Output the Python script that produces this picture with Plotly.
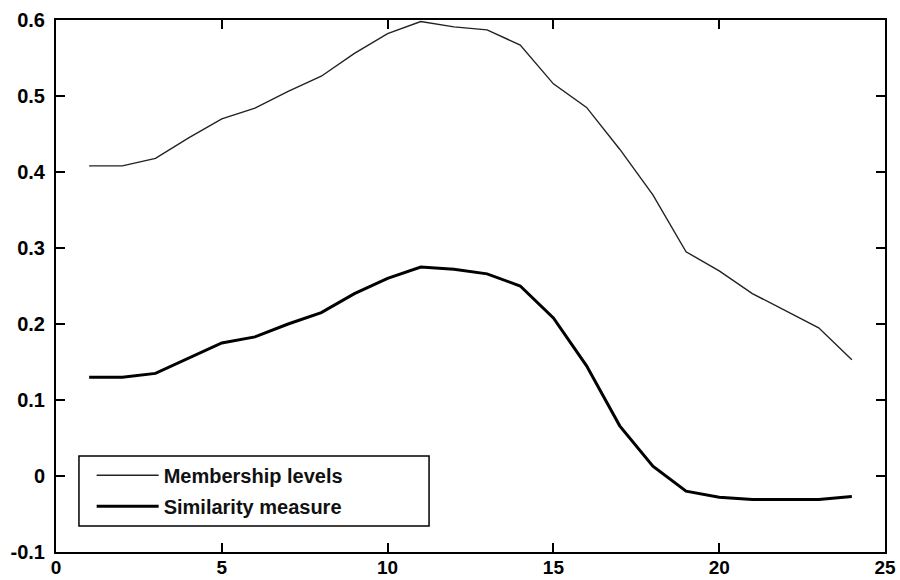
import plotly.graph_objects as go

x_vals = list(range(1, 25))
membership_levels = [0.408, 0.408, 0.418, 0.445, 0.470, 0.484, 0.506, 0.526, 0.556, 0.582,
                     0.598, 0.591, 0.587, 0.567, 0.516, 0.485, 0.430, 0.370, 0.295, 0.270,
                     0.240, 0.218, 0.195, 0.153]
similarity_measure = [0.130, 0.130, 0.135, 0.155, 0.175, 0.183, 0.200, 0.215, 0.240, 0.260,
                      0.275, 0.272, 0.266, 0.250, 0.208, 0.145, 0.066, 0.013, -0.020, -0.028,
                      -0.031, -0.031, -0.031, -0.027]
x_ticks = [0, 5, 10, 15, 20, 25]
y_ticks = [-0.1, 0, 0.1, 0.2, 0.3, 0.4, 0.5, 0.6]
y_tick_labels = ["-0.1", "0", "0.1", "0.2", "0.3", "0.4", "0.5", "0.6"]

font_family = "Liberation Sans, Arial, sans-serif"

fig = go.Figure()
fig.add_trace(go.Scatter(x=x_vals, y=membership_levels, mode="lines",
                         name="Membership levels", legendgroup="a",
                         line=dict(color="#222222", width=1.4)))
fig.add_trace(go.Scatter(x=x_vals, y=similarity_measure, mode="lines",
                         name="Similarity measure", legendgroup="b",
                         line=dict(color="#000000", width=3)))

axis_common = dict(showgrid=False, zeroline=False, showline=True, linecolor="black",
                   linewidth=2, mirror="ticks", ticks="inside", ticklen=9, tickwidth=1.5,
                   tickcolor="black", automargin=False)

fig.update_xaxes(range=[0, 25], tickvals=x_ticks, ticktext=[str(t) for t in x_ticks],
                 ticklabelstandoff=-3,
                 tickfont=dict(family=font_family, size=19, color="black", weight="bold"),
                 **axis_common)
fig.update_yaxes(range=[-0.1, 0.6], tickvals=y_ticks, ticktext=y_tick_labels,
                 ticklabelstandoff=5,
                 tickfont=dict(family=font_family, size=20, color="black", weight="bold"),
                 **axis_common)

# legend frame
fig.add_shape(type="rect", xref="paper", yref="paper",
              x0=0.0277, x1=0.450, y0=0.0489, y1=0.1805,
              line=dict(color="black", width=1.5), fillcolor="white", layer="below")

fig.update_layout(
    width=900, height=580,
    margin=dict(l=56, r=15, t=20, b=28),
    plot_bgcolor="white", paper_bgcolor="white",
    showlegend=True,
    legend=dict(x=0.043, y=0.181, xanchor="left", yanchor="top",
                bgcolor="rgba(0,0,0,0)", borderwidth=0, itemwidth=62,
                font=dict(family=font_family, size=20, color="#111111", weight="bold"),
                tracegroupgap=2),
)

fig.write_html("out.html")
